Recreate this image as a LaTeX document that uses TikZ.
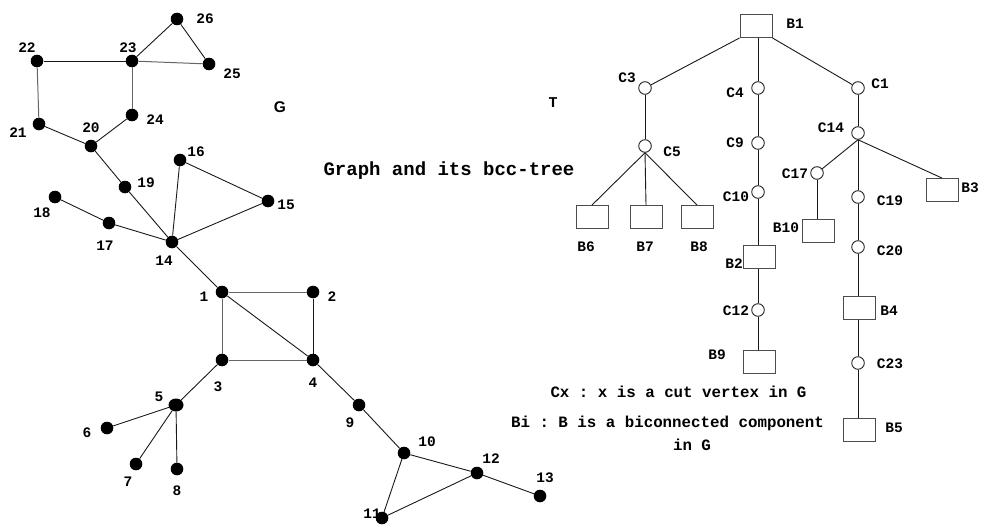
\documentclass[tikz,border=0pt]{standalone}
\usepackage{fontspec}
\usetikzlibrary{shapes.geometric}
\setmonofont{Liberation Mono}
\newfontfamily\gfont{Liberation Sans}
\begin{document}
\begin{tikzpicture}[x=1pt,y=-1pt,
  vtx/.style={circle,fill=black,inner sep=0pt,minimum size=12.6pt},
  lab/.style={font=\ttfamily\bfseries\fontsize{14.5}{17}\selectfont,inner sep=0pt,text depth=0pt},
  legend/.style={font=\ttfamily\bfseries\fontsize{15.8}{19}\selectfont,inner sep=0pt,text depth=0pt},
  cutv/.style={circle,draw=black!85,fill=white,inner sep=0pt,minimum size=12.6pt,line width=0.9pt},
  blk/.style={rectangle,draw=black!70,fill=white,inner sep=0pt,minimum width=32pt,minimum height=23pt,line width=0.9pt},
  edge/.style={draw=black!90,line width=0.9pt},
  gedge/.style={draw=black!60,line width=1pt}]
\useasboundingbox (0,0) rectangle (982,527);

% ---------- graph G : vertices ----------
\node[vtx] (v1) at (222,292) {};
\node[vtx] (v2) at (313,292) {};
\node[vtx] (v3) at (222,360) {};
\node[vtx] (v4) at (313,360) {};
\node[vtx,ellipse,minimum width=15pt,minimum height=13pt] (v5) at (176,405) {};
\node[vtx] (v6) at (107,428) {};
\node[vtx] (v7) at (136,464) {};
\node[vtx] (v8) at (177,469) {};
\node[vtx] (v9) at (359,405) {};
\node[vtx] (v10) at (404,453) {};
\node[vtx] (v11) at (382,518) {};
\node[vtx] (v12) at (477,473) {};
\node[vtx] (v13) at (540,496) {};
\node[vtx] (v14) at (172,242) {};
\node[vtx] (v15) at (268,201) {};
\node[vtx] (v16) at (180,160) {};
\node[vtx] (v17) at (109,223) {};
\node[vtx] (v18) at (55,197) {};
\node[vtx] (v19) at (125,187) {};
\node[vtx] (v20) at (91,146) {};
\node[vtx] (v21) at (39,124) {};
\node[vtx] (v22) at (37,61) {};
\node[vtx] (v23) at (132,61) {};
\node[vtx] (v24) at (132,115) {};
\node[vtx] (v25) at (209,64) {};
\node[vtx] (v26) at (177,19) {};

% ---------- graph G : edges ----------
\draw[edge] (v14) -- (v1);
\draw[gedge] (v1) -- (v2);
\draw[gedge] (v1) -- (v3);
\draw[edge] (v1) -- (v4);
\draw[edge] (v2) -- (v4);
\draw[gedge] (v3) -- (v4);
\draw[edge] (v3) -- (v5);
\draw[edge] (v5) -- (v6);
\draw[edge] (v5) -- (v7);
\draw[edge] (v5) -- (v8);
\draw[edge] (v4) -- (v9);
\draw[edge] (v9) -- (v10);
\draw[edge] (v10) -- (v11);
\draw[edge] (v10) -- (v12);
\draw[edge] (v11) -- (v12);
\draw[edge] (v12) -- (v13);
\draw[edge] (v14) -- (v15);
\draw[edge] (v14) -- (v16);
\draw[edge] (v15) -- (v16);
\draw[edge] (v14) -- (v17);
\draw[edge] (v17) -- (v18);
\draw[edge] (v14) -- (v19);
\draw[edge] (v19) -- (v20);
\draw[edge] (v20) -- (v21);
\draw[edge] (v20) -- (v24);
\draw[gedge] (v21) -- (v22);
\draw[edge] (v22) -- (v23);
\draw[gedge] (v23) -- (v24);
\draw[gedge] (v23) -- (v25);
\draw[edge] (v23) -- (v26);
\draw[edge] (v25) -- (v26);

% ---------- graph G : vertex labels ----------
\node[lab] (n1) at (204,297) {1};
\node[lab] (n2) at (332,297) {2};
\node[lab] (n3) at (218,387) {3};
\node[lab] (n4) at (313,383) {4};
\node[lab] (n5) at (159,397) {5};
\node[lab] (n6) at (87,433) {6};
\node[lab] (n7) at (128,482) {7};
\node[lab] (n8) at (177,491) {8};
\node[lab] (n9) at (350,423) {9};
\node[lab] (n10) at (427,442) {10};
\node[lab] (n11) at (372,514) {11};
\node[lab] (n12) at (491,459) {12};
\node[lab] (n13) at (545,478) {13};
\node[lab] (n14) at (164,261) {14};
\node[lab] (n15) at (286,205) {15};
\node[lab] (n16) at (196,152) {16};
\node[lab] (n17) at (105,246) {17};
\node[lab] (n18) at (42,213) {18};
\node[lab] (n19) at (146,183) {19};
\node[lab] (n20) at (91,128) {20};
\node[lab] (n21) at (18,133) {21};
\node[lab] (n22) at (27,48) {22};
\node[lab] (n23) at (128,48) {23};
\node[lab] (n24) at (155,120) {24};
\node[lab] (n25) at (232,74) {25};
\node[lab] (n26) at (205,19) {26};

% ---------- captions ----------
\node[font=\gfont\bfseries\fontsize{15.5}{18}\selectfont,inner sep=0pt,text depth=0pt] (capG) at (280,107) {G};
\node[lab,font=\ttfamily\bfseries\fontsize{15}{18}\selectfont] (capT) at (553,103) {T};
\node[lab,font=\ttfamily\bfseries\fontsize{19}{22}\selectfont] (title) at (449,169) {Graph and its bcc-tree};

% ---------- bcc-tree T : nodes ----------
\node[blk] (B1) at (756,26) {};
\node[cutv] (C3) at (645,88) {};
\node[cutv] (C4) at (758,88) {};
\node[cutv] (C1) at (858,88) {};
\node[cutv] (C5) at (645,146) {};
\node[cutv] (C9) at (758,143) {};
\node[cutv] (C14) at (858,133) {};
\node[cutv] (C10) at (758,192) {};
\node[cutv] (C17) at (817,173) {};
\node[cutv] (C19) at (858,197) {};
\node[cutv] (C20) at (858,247) {};
\node[blk] (B6) at (592,217) {};
\node[blk] (B7) at (646,217) {};
\node[blk] (B8) at (697,217) {};
\node[blk] (B3) at (942,190) {};
\node[blk] (B10) at (818,231) {};
\node[blk] (B2) at (759,257) {};
\node[cutv] (C12) at (758,310) {};
\node[blk] (B9) at (759,362) {};
\node[blk] (B4) at (859,308) {};
\node[cutv] (C23) at (858,363) {};
\node[blk] (B5) at (859,430) {};

% ---------- bcc-tree T : edges ----------
\draw[edge] (B1.south west) -- (C3);
\draw[edge] (C4 |- B1.south) -- (C4);
\draw[edge] (B1.south east) -- (C1);
\draw[edge] (C3) -- (C5);
\draw[edge] (C5.south) -- (B6.north);
\draw[edge] (C5.south) -- (B7.north);
\draw[edge] (C5.south) -- (B8.north);
\draw[edge] (C4) -- (C9);
\draw[edge] (C9) -- (C10);
\draw[edge] (C10) -- (C10 |- B2.north);
\draw[edge] (C12 |- B2.south) -- (C12);
\draw[edge] (C12) -- (C12 |- B9.north);
\draw[edge] (C1) -- (C14);
\draw[edge] (C14.south) -- (C17);
\draw[edge] (C14.south) -- (B3.north);
\draw[edge] (C17) -- (C17 |- B10.north);
\draw[edge] (C14) -- (C19);
\draw[edge] (C19) -- (C20);
\draw[edge] (C20) -- (C20 |- B4.north);
\draw[edge] (C23 |- B4.south) -- (C23);
\draw[edge] (C23) -- (C23 |- B5.north);

% ---------- bcc-tree T : labels ----------
\node[lab] (lB1) at (795,24) {B1};
\node[lab] (lC3) at (627,78) {C3};
\node[lab] (lC4) at (735,93) {C4};
\node[lab] (lC1) at (880,84) {C1};
\node[lab] (lC5) at (672,152) {C5};
\node[lab] (lC9) at (735,143) {C9};
\node[lab] (lC14) at (831,128) {C14};
\node[lab] (lC10) at (736,197) {C10};
\node[lab] (lC17) at (795,174) {C17};
\node[lab] (lC19) at (890,201) {C19};
\node[lab] (lC20) at (890,251) {C20};
\node[lab] (lB6) at (586,247) {B6};
\node[lab] (lB7) at (645,247) {B7};
\node[lab] (lB8) at (699,247) {B8};
\node[lab] (lB3) at (970,188) {B3};
\node[lab] (lB10) at (786,228) {B10};
\node[lab] (lB2) at (734,264) {B2};
\node[lab] (lC12) at (736,311) {C12};
\node[lab] (lB9) at (717,355) {B9};
\node[lab] (lB4) at (889,311) {B4};
\node[lab] (lC23) at (890,364) {C23};
\node[lab] (lB5) at (894,428) {B5};

% ---------- legend ----------
\node[legend] (leg1) at (678.5,392) {Cx : x is a cut vertex in G};
\node[legend] (leg2) at (667.5,422) {Bi : B is a biconnected component};
\node[legend] (leg3) at (692,445) {in G};
\end{tikzpicture}
\end{document}
